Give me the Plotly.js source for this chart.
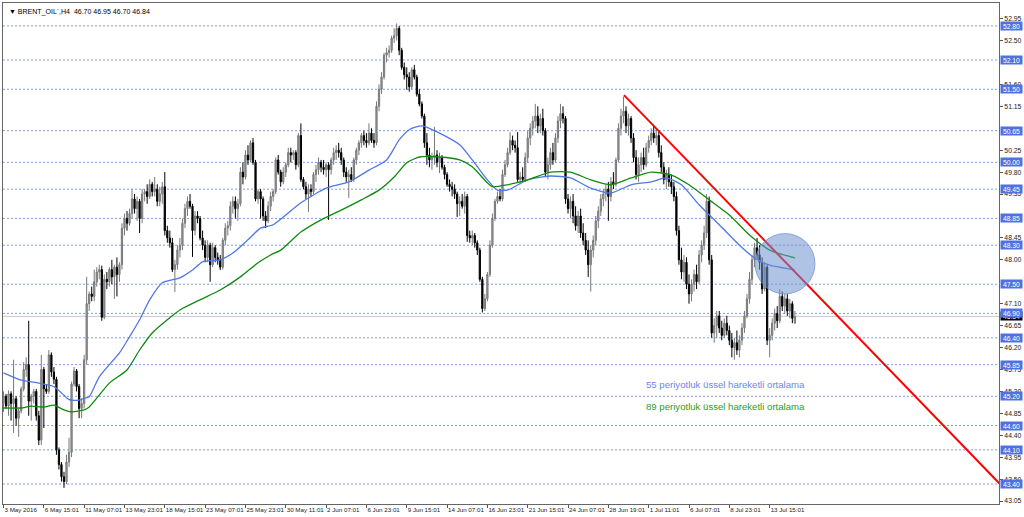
<!DOCTYPE html>
<html><head><meta charset="utf-8">
<script src="https://cdn.plot.ly/plotly-3.0.1.min.js"></script>
<style>html,body{margin:0;padding:0;background:#fff;}#chart{width:1024px;height:517px;}</style>
</head><body><div id="chart"></div>
<script>
const chartTitle = "\u25BC BRENT_OIL`,H4  46.70 46.95 46.70 46.84";

const opens = [
45.05,45.20,45.00,45.25,45.05,45.15,44.75,44.90,45.35,45.75,
45.85,45.10,45.20,45.30,44.80,44.30,45.75,45.35,45.30,46.05,
45.70,45.55,44.10,43.80,43.55,43.45,43.85,44.05,45.45,45.72,
45.40,44.95,45.05,45.95,47.10,47.30,47.25,47.55,47.75,47.80,
46.82,47.60,47.55,47.80,47.65,47.85,47.70,47.90,48.65,48.85,
48.75,48.95,49.25,49.05,49.20,48.85,49.35,49.40,49.30,49.55,
49.40,49.45,49.20,49.35,49.50,48.60,48.45,48.35,47.80,47.90,
48.20,48.30,48.75,49.05,49.20,49.10,48.60,48.90,48.85,48.45,
48.30,48.05,48.30,47.90,48.25,48.05,48.00,47.85,48.40,48.65,
48.70,49.10,49.20,49.05,49.15,49.80,49.70,50.15,50.05,50.40,
50.00,49.25,49.40,49.25,48.90,48.80,49.10,49.30,49.40,50.05,
49.80,49.60,49.80,49.95,50.20,50.15,50.20,49.95,50.55,49.65,
49.50,49.35,49.45,49.40,49.75,49.85,50.00,49.90,49.85,49.95,
49.85,50.05,50.20,50.25,50.20,50.05,49.80,49.70,49.75,49.65,
50.05,50.25,50.40,50.55,50.45,50.40,50.60,50.45,50.40,51.15,
51.50,51.75,52.20,52.25,52.30,52.55,52.60,52.75,52.30,51.95,
51.80,51.75,51.55,51.90,51.75,51.40,51.20,50.95,50.40,50.15,
50.05,50.10,50.15,50.00,50.10,49.90,49.75,49.55,49.50,49.45,
49.35,49.15,49.20,49.10,49.30,48.50,48.45,48.50,48.35,48.20,
47.60,47.00,47.20,47.70,48.30,48.85,49.20,49.30,49.25,49.75,
49.95,50.20,50.45,50.35,50.30,49.65,49.70,49.65,50.10,50.50,
50.70,50.85,50.95,50.75,50.90,50.65,49.80,49.95,50.20,50.05,
50.50,50.85,51.00,50.90,49.25,49.05,49.20,48.90,48.70,48.90,
48.55,48.40,48.20,47.90,48.20,48.40,48.80,49.00,49.25,49.35,
49.45,49.30,49.60,49.55,50.05,50.70,50.95,51.05,50.75,50.90,
50.50,50.10,49.75,49.95,50.10,49.95,50.30,50.45,50.60,50.50,
50.55,50.20,49.90,49.65,49.75,49.60,49.50,49.30,48.60,48.00,
47.75,47.95,47.50,47.30,47.50,47.70,47.55,48.10,48.30,48.55,
49.20,48.00,46.50,46.65,46.85,46.60,46.45,46.70,46.55,46.35,
46.20,46.30,46.15,46.35,46.60,46.85,47.20,47.60,48.00,48.25,
48.10,47.95,47.40,47.85,46.35,46.45,46.70,46.90,46.75,47.25,
47.05,47.20,46.95,47.10,46.70];

const highs = [
45.30,45.25,45.32,45.30,45.95,45.20,44.95,45.40,45.90,46.00,
46.75,45.25,45.35,45.35,44.90,46.05,45.80,45.45,46.15,46.10,
45.80,45.60,44.15,43.85,43.65,44.00,44.35,45.50,45.80,45.76,
45.45,45.15,46.05,47.65,47.35,47.45,47.80,47.85,47.90,47.88,
47.70,47.75,47.85,48.00,47.90,48.05,47.95,48.75,48.95,49.00,
49.05,49.45,49.35,49.30,49.25,49.45,49.45,49.55,49.65,49.60,
49.70,49.55,49.50,49.60,49.80,48.70,48.60,48.45,48.00,48.30,
48.45,48.85,49.15,49.30,49.35,49.15,49.00,49.00,48.90,48.60,
48.40,48.40,48.35,48.35,48.30,48.15,48.10,48.45,48.75,48.80,
49.20,49.30,49.30,49.25,49.90,50.00,50.25,50.35,50.45,50.50,
50.05,49.45,49.45,49.30,49.00,49.20,49.40,49.45,50.10,50.15,
49.85,49.90,50.00,50.30,50.30,50.25,50.25,50.60,50.80,49.70,
49.60,49.55,49.55,49.80,49.95,50.10,50.05,50.05,50.00,50.00,
50.10,50.30,50.35,50.40,50.30,50.10,49.90,49.85,49.90,50.10,
50.30,50.45,50.60,50.65,50.60,50.80,50.70,50.60,51.25,51.60,
51.85,52.25,52.35,52.40,52.60,52.75,52.85,52.80,52.35,52.05,
51.95,51.85,51.95,52.00,51.80,51.50,51.25,51.00,50.60,50.30,
50.20,50.73,50.25,50.20,50.15,49.95,49.80,49.65,49.60,49.55,
49.40,49.30,49.35,49.40,49.35,48.60,48.60,48.55,48.40,48.25,
47.65,47.30,47.75,48.40,48.95,49.25,49.40,49.45,49.85,50.05,
50.30,50.62,50.55,50.45,50.62,49.80,49.90,50.20,50.65,50.80,
50.95,51.20,51.15,51.00,51.10,50.70,50.10,50.30,50.40,50.60,
50.95,51.20,51.15,50.95,49.35,49.30,49.35,49.10,49.00,49.05,
48.75,48.55,48.40,48.30,48.50,48.90,49.10,49.35,49.45,49.55,
49.60,49.70,49.80,50.10,50.80,51.10,51.35,51.15,51.00,50.95,
50.60,50.25,50.10,50.20,50.30,50.40,50.55,50.70,50.75,50.70,
50.65,50.35,50.00,49.85,49.90,49.75,49.60,49.40,48.70,48.25,
48.10,48.05,47.70,47.60,47.80,47.90,48.20,48.40,48.70,49.35,
49.30,48.10,46.80,46.95,46.95,46.75,46.80,46.85,46.65,46.50,
46.40,46.55,46.45,46.70,46.95,47.30,47.75,48.10,48.35,48.45,
48.30,48.05,47.95,47.90,46.60,46.80,47.00,47.05,47.40,47.35,
47.30,47.30,47.20,47.15,46.95];

const lows = [
44.88,44.95,44.80,44.70,44.45,44.60,44.37,44.85,45.30,45.60,
44.80,44.70,45.05,44.70,44.20,44.20,44.55,45.25,45.25,45.60,
45.45,44.00,43.70,43.45,43.32,43.40,43.75,43.95,45.40,45.30,
44.75,44.75,44.95,45.85,46.95,47.15,47.15,47.45,47.60,46.75,
46.78,47.40,47.45,47.50,47.20,47.25,47.55,47.80,48.50,48.60,
48.70,48.85,48.95,48.80,48.55,48.75,49.20,49.15,49.25,49.30,
49.30,49.10,49.10,49.15,48.50,48.35,48.25,47.75,47.34,47.80,
48.05,48.20,48.65,48.90,49.05,48.06,48.50,48.75,48.40,48.20,
47.95,47.95,47.55,47.85,47.95,47.90,47.79,47.80,48.30,48.50,
48.60,48.95,48.85,48.80,49.10,49.55,49.65,49.95,50.00,49.95,
49.20,49.15,48.85,48.80,48.65,48.75,49.00,49.20,49.35,49.75,
49.50,49.55,49.70,49.90,50.00,50.05,49.85,49.90,49.60,49.45,
49.25,48.98,49.30,49.35,49.60,49.75,49.80,49.75,49.70,48.82,
49.75,49.95,50.05,50.10,49.95,49.70,49.60,49.27,49.60,49.60,
49.95,50.15,50.30,50.35,50.30,50.35,50.40,50.30,50.35,51.05,
51.40,51.70,52.05,52.15,52.25,52.45,52.50,52.20,51.90,51.70,
51.49,51.45,51.50,51.70,51.35,51.15,50.90,50.30,49.95,49.90,
49.85,49.95,49.90,49.78,49.85,49.65,49.50,49.40,49.30,49.25,
48.88,48.90,49.05,48.95,48.37,48.35,48.30,48.25,48.10,47.55,
46.92,46.95,47.15,47.65,48.25,48.80,49.15,49.20,49.20,49.70,
49.90,50.15,50.25,50.20,49.60,49.55,49.60,49.60,50.00,50.35,
50.55,50.70,50.60,50.60,50.55,49.70,49.65,49.85,49.95,50.00,
50.40,50.70,50.80,49.15,48.95,48.85,48.75,48.60,48.55,48.45,
48.30,48.10,47.65,47.35,48.05,48.30,48.65,48.90,49.10,49.20,
48.80,49.20,49.45,49.50,50.00,50.55,50.80,50.60,50.55,50.40,
50.00,49.65,49.60,49.80,49.85,49.90,50.20,50.35,50.40,50.35,
50.10,49.80,49.55,49.45,49.50,49.35,49.20,48.50,47.90,47.60,
47.55,47.40,47.10,47.15,47.35,47.40,47.50,47.95,48.20,48.45,
47.90,46.40,46.30,46.40,46.50,46.35,46.40,46.45,46.25,46.00,
45.95,46.05,46.00,46.25,46.50,46.80,47.10,47.50,47.85,48.00,
47.80,47.30,47.35,46.25,46.00,46.35,46.55,46.60,46.70,46.95,
46.90,46.85,46.80,46.70,46.70];

const closes = [
45.20,45.00,45.25,45.05,45.15,44.75,44.90,45.35,45.75,45.85,
45.10,45.20,45.30,44.80,44.30,45.75,45.35,45.30,46.05,45.70,
45.55,44.10,43.80,43.55,43.45,43.85,44.05,45.45,45.72,45.40,
44.95,45.05,45.95,47.10,47.30,47.25,47.55,47.75,47.80,46.82,
47.60,47.55,47.80,47.65,47.85,47.70,47.90,48.65,48.85,48.75,
48.95,49.25,49.05,49.20,48.85,49.35,49.40,49.30,49.55,49.40,
49.45,49.20,49.35,49.50,48.60,48.45,48.35,47.80,47.90,48.20,
48.30,48.75,49.05,49.20,49.10,48.60,48.90,48.85,48.45,48.30,
48.05,48.30,47.90,48.25,48.05,48.00,47.85,48.40,48.65,48.70,
49.10,49.20,49.05,49.15,49.80,49.70,50.15,50.05,50.40,50.00,
49.25,49.40,49.25,48.90,48.80,49.10,49.30,49.40,50.05,49.80,
49.60,49.80,49.95,50.20,50.15,50.20,49.95,50.55,49.65,49.50,
49.35,49.45,49.40,49.75,49.85,50.00,49.90,49.85,49.95,49.85,
50.05,50.20,50.25,50.20,50.05,49.80,49.70,49.75,49.65,50.05,
50.25,50.40,50.55,50.45,50.40,50.60,50.45,50.40,51.15,51.50,
51.75,52.20,52.25,52.30,52.55,52.60,52.75,52.30,51.95,51.80,
51.75,51.55,51.90,51.75,51.40,51.20,50.95,50.40,50.15,50.05,
50.10,50.15,50.00,50.10,49.90,49.75,49.55,49.50,49.45,49.35,
49.15,49.20,49.10,49.30,48.50,48.45,48.50,48.35,48.20,47.60,
47.00,47.20,47.70,48.30,48.85,49.20,49.30,49.25,49.75,49.95,
50.20,50.45,50.35,50.30,49.65,49.70,49.65,50.10,50.50,50.70,
50.85,50.95,50.75,50.90,50.65,49.80,49.95,50.20,50.05,50.50,
50.85,51.00,50.90,49.25,49.05,49.20,48.90,48.70,48.90,48.55,
48.40,48.20,47.90,48.20,48.40,48.80,49.00,49.25,49.35,49.45,
49.30,49.60,49.55,50.05,50.70,50.95,51.05,50.75,50.90,50.50,
50.10,49.75,49.95,50.10,49.95,50.30,50.45,50.60,50.50,50.55,
50.20,49.90,49.65,49.75,49.60,49.50,49.30,48.60,48.00,47.75,
47.95,47.50,47.30,47.50,47.70,47.55,48.10,48.30,48.55,49.20,
48.00,46.50,46.65,46.85,46.60,46.45,46.70,46.55,46.35,46.20,
46.30,46.15,46.35,46.60,46.85,47.20,47.60,48.00,48.25,48.10,
47.95,47.40,47.85,46.35,46.45,46.70,46.90,46.75,47.25,47.05,
47.20,46.95,47.10,46.80,46.84];

// Moving averages read at sample bars
const ema55Bars = [0,7,14,20,24,26,30,32,34,38,46,50,54,58,63,70,75,79,86,91,97,102,107,118,128,137,145,152,157,161,166,173,181,186,192,196,200,208,217,225,233,241,249,257,263,269,276,284,292,298,304,310,314];
const ema55 = [45.68,45.53,45.47,45.40,45.22,45.13,45.12,45.16,45.19,45.60,46.09,46.42,46.77,47.18,47.53,47.63,47.79,47.96,48.00,48.14,48.41,48.65,48.72,49.17,49.47,49.60,49.84,50.05,50.46,50.67,50.75,50.60,50.36,50.05,49.64,49.43,49.43,49.64,49.72,49.68,49.47,49.37,49.54,49.60,49.68,49.54,49.13,48.72,48.30,48.04,47.89,47.83,47.79];
const ema89Bars = [0,7,11,16,20,24,27,32,34,42,49,54,59,65,70,78,86,94,101,106,110,118,126,134,142,149,155,160,165,173,181,186,192,194,200,208,217,225,233,241,249,257,265,272,280,288,296,304,314];
const ema89 = [44.96,44.96,45.00,44.98,45.02,44.92,44.88,44.92,44.98,45.47,45.74,46.15,46.50,46.77,46.97,47.18,47.38,47.65,47.94,48.10,48.20,48.57,48.82,49.02,49.23,49.43,49.70,49.99,50.11,50.11,50.05,49.91,49.58,49.50,49.54,49.64,49.80,49.80,49.64,49.54,49.68,49.80,49.74,49.54,49.23,48.92,48.51,48.20,48.04];

// Trend line (bar, price)
const trendBars = [246.2, 395.4];
const trendPrices = [51.38, 43.40];

// Highlighted horizontal levels
const levels = [52.80,52.10,51.50,50.65,50.00,49.45,48.85,48.30,47.50,46.90,46.40,45.85,45.20,44.60,44.10,43.40];
const lastPrice = 46.84;

// Axis ticks (labels hidden behind the level boxes are left out)
const priceTicks = [52.95,52.50,51.60,51.15,50.25,49.80,49.35,48.45,48.00,47.10,46.65,46.20,45.75,45.30,44.85,44.40,43.95,43.50,43.05];
const dateLabels = ["3 May 2016","6 May 15:01","11 May 07:01","13 May 23:01","18 May 15:01","23 May 07:01","25 May 23:01","30 May 11:01","2 Jun 07:01","6 Jun 23:01","9 Jun 15:01","14 Jun 07:01","16 Jun 23:01","21 Jun 15:01","24 Jun 07:01","28 Jun 19:01","1 Jul 11:01","6 Jul 07:01","8 Jul 23:01","13 Jul 15:01"];
const barsPerLabel = 16;

const legend55 = "55 periyotluk \u00fcssel hareketli ortalama";
const legend89 = "89 periyotluk \u00fcssel hareketli ortalama";

const barIdx = closes.map((_, i) => i);
const dateTickVals = dateLabels.map((_, i) => i * barsPerLabel);

const font = "Liberation Sans, Arial, sans-serif";

const traces = [
  {
    type: 'candlestick', x: barIdx, open: opens, high: highs, low: lows, close: closes,
    increasing: {line: {color: '#787878', width: 1}, fillcolor: '#9c9c9c'},
    decreasing: {line: {color: '#000000', width: 1}, fillcolor: '#000000'},
    whiskerwidth: 0, hoverinfo: 'skip', showlegend: false
  },
  {type: 'scatter', mode: 'lines', x: ema55Bars, y: ema55, line: {color: '#4f78e6', width: 1.3, shape: 'spline', smoothing: 0.6}, hoverinfo: 'skip', showlegend: false},
  {type: 'scatter', mode: 'lines', x: ema89Bars, y: ema89, line: {color: '#0e8a0e', width: 1.3, shape: 'spline', smoothing: 0.6}, hoverinfo: 'skip', showlegend: false},
  {type: 'scatter', mode: 'lines', x: trendBars, y: trendPrices, line: {color: '#ff0000', width: 2}, hoverinfo: 'skip', showlegend: false}
];

const shapes = [];
levels.forEach(v => shapes.push({type: 'line', xref: 'paper', x0: 0, x1: 1, yref: 'y', y0: v, y1: v, line: {color: '#7f9bea', width: 1, dash: '2px,2px'}, layer: 'below'}));
shapes.push({type: 'line', xref: 'paper', x0: 0, x1: 1, yref: 'y', y0: lastPrice, y1: lastPrice, line: {color: '#c8c8c8', width: 1}, layer: 'below'});
shapes.push({type: 'circle', xref: 'x', yref: 'y', x0: 298.2, x1: 322.0, y0: 47.30, y1: 48.54, fillcolor: 'rgba(110,145,205,0.55)', line: {color: 'rgba(110,145,205,0.7)', width: 1}, layer: 'above'});

const annotations = [];
annotations.push({xref: 'paper', x: 1, xanchor: 'left', xshift: 1, yref: 'y', y: lastPrice, yanchor: 'middle', text: lastPrice.toFixed(2), showarrow: false, font: {family: font, size: 6.8, color: '#ffffff'}, bgcolor: '#000000', borderpad: 0, width: 21, height: 8});
levels.forEach(v => annotations.push({xref: 'paper', x: 1, xanchor: 'left', xshift: 1, yref: 'y', y: v, yanchor: 'middle', text: v.toFixed(2), showarrow: false, font: {family: font, size: 6.8, color: '#ffffff'}, bgcolor: '#4f72e3', borderpad: 0, width: 21, height: 8}));
annotations.push({xref: 'paper', yref: 'paper', x: 0.004, y: 0.995, xanchor: 'left', yanchor: 'top', text: chartTitle, showarrow: false, font: {family: font, size: 7, color: '#000'}});
annotations.push({xref: 'x', yref: 'y', x: 254, y: 45.45, xanchor: 'left', yanchor: 'middle', text: legend55, showarrow: false, font: {family: font, size: 9.6, color: '#6a88ea'}});
annotations.push({xref: 'x', yref: 'y', x: 254, y: 45.00, xanchor: 'left', yanchor: 'middle', text: legend89, showarrow: false, font: {family: font, size: 9.6, color: '#2f9a1f'}});

const layout = {
  width: 1024, height: 517,
  margin: {l: 3, r: 25, t: 3, b: 13},
  paper_bgcolor: '#ffffff', plot_bgcolor: '#ffffff',
  showlegend: false,
  xaxis: {
    range: [-0.2, 395.0], rangeslider: {visible: false}, showgrid: false, zeroline: false,
    tickmode: 'array', tickvals: dateTickVals, ticktext: dateLabels, tickangle: 0,
    ticks: 'outside', ticklen: 3, tickcolor: '#555', ticklabelposition: 'outside right',
    tickfont: {family: font, size: 6.2, color: '#222'}, automargin: false,
    showline: true, linecolor: '#666', linewidth: 1, mirror: true
  },
  yaxis: {
    side: 'right', range: [42.99, 53.27], showgrid: false, zeroline: false,
    tickmode: 'array', tickvals: priceTicks, ticktext: priceTicks.map(v => v.toFixed(2)),
    ticks: 'outside', ticklen: 3, tickcolor: '#555', automargin: false,
    tickfont: {family: font, size: 6.8, color: '#222'},
    showline: true, linecolor: '#666', linewidth: 1, mirror: true
  },
  shapes: shapes, annotations: annotations
};

Plotly.newPlot('chart', traces, layout, {displayModeBar: false, staticPlot: true});
</script></body></html>
